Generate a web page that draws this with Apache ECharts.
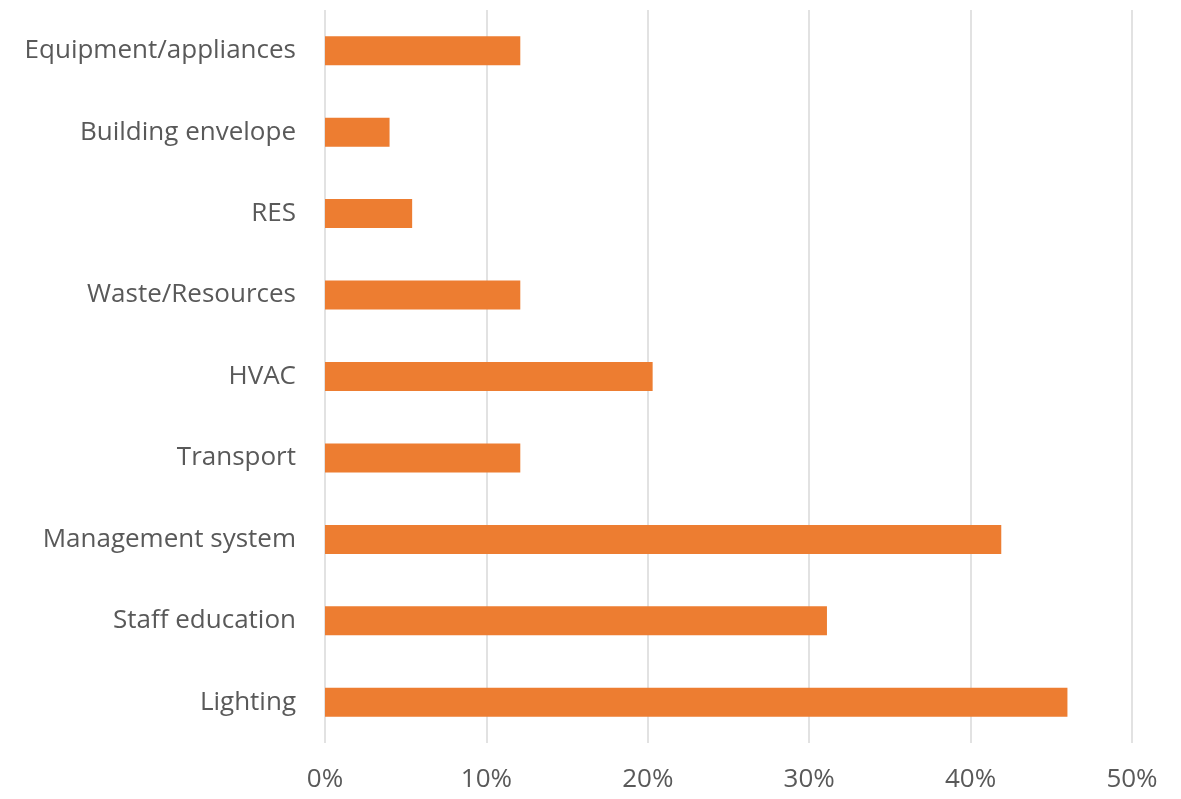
<!DOCTYPE html>
<html>
<head>
<meta charset="utf-8">
<script src="https://cdn.jsdelivr.net/npm/echarts@6/dist/echarts.min.js"></script>
<style>
	html, body { margin: 0; padding: 0; background: #fff; }
	#chart { width: 1181px; height: 799px; }
</style>
</head>
<body>
<div id="chart"></div>
<script>
// categories top to bottom
var categories = ["Equipment/appliances", "Building envelope", "RES", "Waste/Resources", "HVAC", "Transport", "Management system", "Staff education", "Lighting"];
var shares = [12.1, 4.0, 5.4, 12.1, 20.3, 12.1, 41.9, 31.1, 46.0];
var xTicks = [0, 10, 20, 30, 40, 50];

var fontFamily = "'Open Sans', 'Noto Sans', sans-serif";
var textColor = "#595959";

var chart = echarts.init(document.getElementById("chart"));
chart.setOption({
	animation: false,
	grid: { left: 325, right: 49, top: 10, bottom: 56 },
	xAxis: {
		type: "value",
		min: xTicks[0],
		max: xTicks[xTicks.length - 1],
		interval: 10,
		axisLine: { show: false },
		axisTick: { show: false },
		splitLine: { lineStyle: { color: "#d9d9d9", width: 1.5 } },
		axisLabel: {
			color: textColor, fontSize: 26, fontFamily: fontFamily, margin: 24,
			formatter: function (v) { return v + "%"; }
		}
	},
	yAxis: {
		type: "category",
		data: categories,
		inverse: true,
		axisLine: { show: false },
		axisTick: { show: false },
		axisLabel: { color: textColor, fontSize: 26, fontFamily: fontFamily, margin: 29 }
	},
	series: [{
		type: "bar",
		data: shares,
		barWidth: 29,
		itemStyle: { color: "#ed7d31" }
	}]
});
</script>
</body>
</html>
